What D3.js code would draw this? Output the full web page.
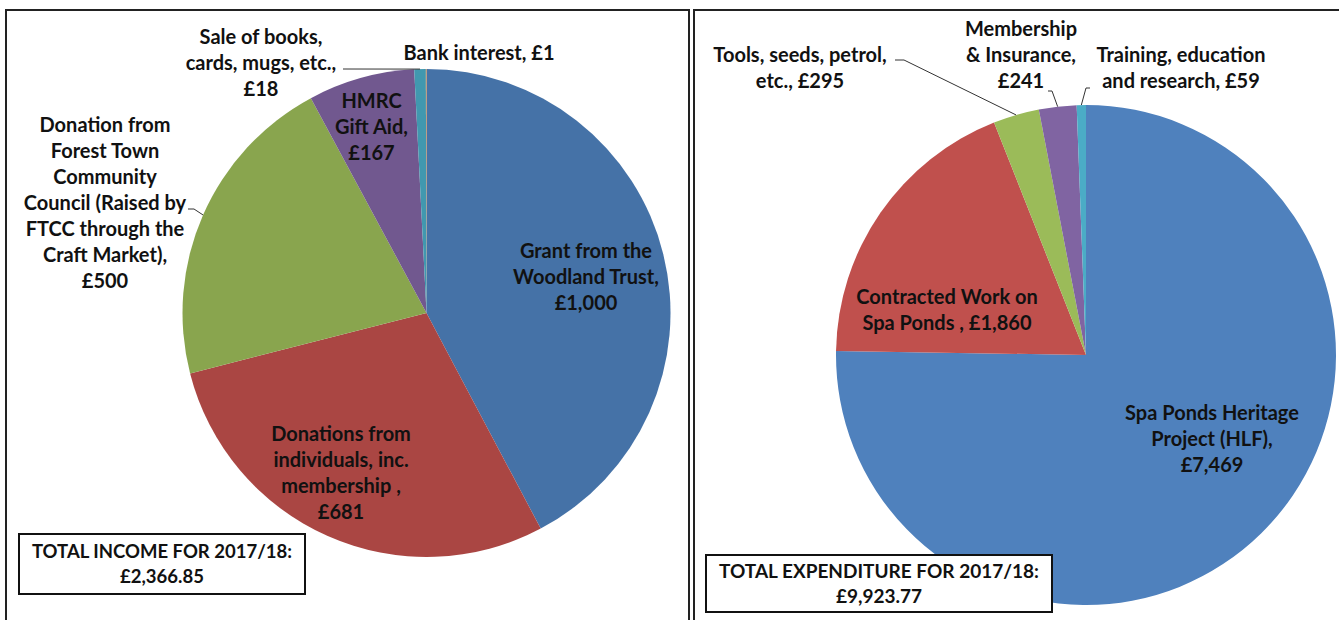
<!DOCTYPE html>
<html>
<head>
<meta charset="utf-8">
<script src="https://cdn.jsdelivr.net/npm/d3@7"></script>
<style>
body { margin: 0; background: #fff; }
text { font-family: Lato, "Open Sans", sans-serif; font-weight: 700; fill: #111; }
</style>
</head>
<body>
<svg id="chart" width="1339" height="620"></svg>
<script>
// income 2017/18
var incomeCategories = ["Grant from the Woodland Trust", "Donations from individuals", "Donation from FTCC", "HMRC Gift Aid", "Sale of books, cards, mugs", "Bank interest"]
var incomeValues = [1000, 681, 500, 167, 18, 1]
var incomeLabels = [
	["Grant from the", "Woodland Trust,", "£1,000"],
	["Donations from", "individuals, inc.", "membership ,", "£681"],
	["Donation from", "Forest Town", "Community", "Council (Raised by", "FTCC through the", "Craft Market),", "£500"],
	["HMRC", "Gift Aid,", "£167"],
	["Sale of books,", "cards, mugs, etc.,", "£18"],
	["Bank interest, £1"]
]
var incomeTotal = ["TOTAL INCOME FOR 2017/18:", "£2,366.85"]

// expenditure 2017/18
var expenseCategories = ["Spa Ponds Heritage Project (HLF)", "Contracted Work on Spa Ponds", "Tools, seeds, petrol, etc.", "Membership & Insurance", "Training, education and research"]
var expenseValues = [7469, 1860, 295, 241, 59]
var expenseLabels = [
	["Spa Ponds Heritage", "Project (HLF),", "£7,469"],
	["Contracted Work on", "Spa Ponds , £1,860"],
	["Tools, seeds, petrol,", "etc., £295"],
	["Membership", "& Insurance,", "£241"],
	["Training, education", "and research, £59"]
]
var expenseTotal = ["TOTAL EXPENDITURE FOR 2017/18:", "£9,923.77"]

var incomeColors = ["#4572A7", "#AA4643", "#89A54E", "#71588F", "#4198AF", "#DB843D"]
var expenseColors = ["#4F81BD", "#C0504D", "#9BBB59", "#8064A2", "#4BACC6"]

// layout: label block centres and leader starts, as offsets from the pie centre
var panels = [
	{
		frame: [6, 10, 683, 640], cx: 426.5, cy: 313, r: 244,
		values: incomeValues, labels: incomeLabels, colors: incomeColors, total: incomeTotal,
		box: [19, 534, 286, 60], boxFont: 18.5,
		pos: [[159.5, -36], [-85.5, 160], [-321.5, -110], [-55, -186], [-165.5, -250], [52.5, -260]],
		leader: [null, null, [-238.5, -104, 6], null, [-83.5, -244, 0], null]
	},
	{
		frame: [694, 10, 660, 640], cx: 1086, cy: 355, r: 250,
		values: expenseValues, labels: expenseLabels, colors: expenseColors, total: expenseTotal,
		box: [706, 555, 346, 57], boxFont: 19,
		pos: [[126, 84], [-139, -45], [-286, -287.5], [-65, -300], [95, -287]],
		leader: [null, null, [-191, -295, 9], [-38, -264, 4], [4, -267, -4]]
	}
]

var svg = d3.select("#chart")
var lineH = 26

panels.forEach(function(p) {
	svg.append("rect")
		.attr("x", p.frame[0])
		.attr("y", p.frame[1])
		.attr("width", p.frame[2])
		.attr("height", p.frame[3])
		.attr("fill", "none")
		.attr("stroke", "#222")
		.attr("stroke-width", 2)

	var pie = d3.pie().sort(null).value(function(d) { return d })
	var arcs = pie(p.values)
	var arc = d3.arc().innerRadius(0).outerRadius(p.r)
	var edge = d3.arc().innerRadius(p.r).outerRadius(p.r)

	var g = svg.append("g")
		.attr("transform", "translate(" + p.cx + "," + p.cy + ")")

	g.selectAll("path.slice")
		.data(arcs)
		.enter()
		.append("path")
		.attr("class", "slice")
		.attr("d", arc)
		.attr("fill", function(d, i) { return p.colors[i] })

	// leader lines: short horizontal stub from the label, then to the slice edge
	arcs.forEach(function(d, i) {
		var l = p.leader[i]
		if (!l) return
		var end = edge.centroid(d)
		var pts = [[l[0], l[1]], [l[0] + l[2], l[1]], end]
		g.append("path")
			.attr("d", d3.line()(pts))
			.attr("fill", "none")
			.attr("stroke", "#333")
			.attr("stroke-width", 1)
	})

	var labels = g.selectAll("text.lbl")
		.data(p.labels)
		.enter()
		.append("text")
		.attr("class", "lbl")
		.attr("font-size", 20)
		.attr("text-anchor", "middle")

	labels.selectAll("tspan")
		.data(function(d, i) {
			return d.map(function(s, j) {
				return {s: s, x: p.pos[i][0], y: p.pos[i][1] + (j - (d.length - 1) / 2) * lineH}
			})
		})
		.enter()
		.append("tspan")
		.attr("x", function(d) { return d.x })
		.attr("y", function(d) { return d.y })
		.attr("dy", "0.35em")
		.text(function(d) { return d.s })

	// total box
	svg.append("rect")
		.attr("x", p.box[0])
		.attr("y", p.box[1])
		.attr("width", p.box[2])
		.attr("height", p.box[3])
		.attr("fill", "#fff")
		.attr("stroke", "#111")
		.attr("stroke-width", 2)

	svg.append("text")
		.attr("font-size", p.boxFont)
		.attr("text-anchor", "middle")
		.selectAll("tspan")
		.data(p.total)
		.enter()
		.append("tspan")
		.attr("x", p.box[0] + p.box[2] / 2)
		.attr("y", function(d, j) { return p.box[1] + p.box[3] / 2 + (j - 0.5) * 25 })
		.attr("dy", "0.35em")
		.text(function(d) { return d })
})
</script>
</body>
</html>
